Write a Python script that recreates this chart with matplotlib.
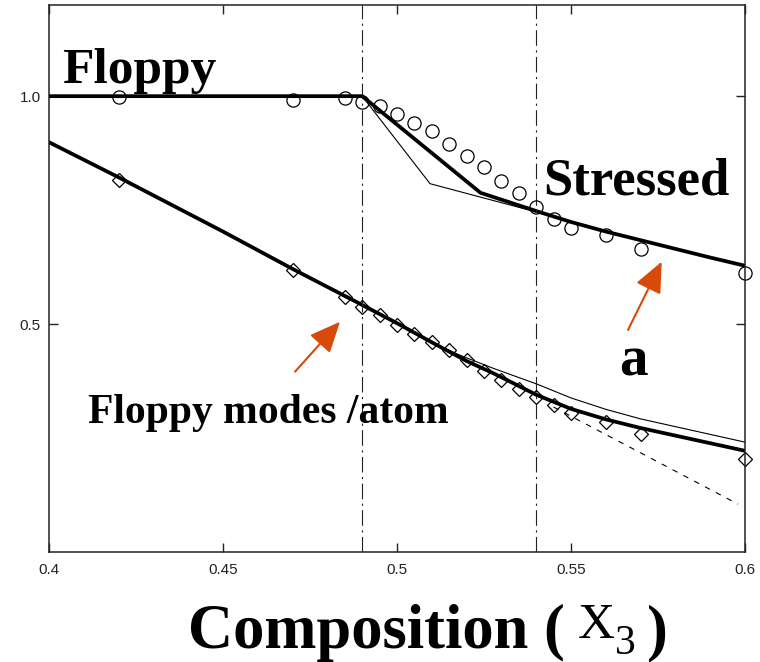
import matplotlib
matplotlib.use('Agg')
import matplotlib.pyplot as plt

W, H = 760, 662

# open circles (upper set)
x_circ = [0.42, 0.47, 0.485, 0.49, 0.495, 0.50, 0.505, 0.51, 0.515, 0.52,
          0.525, 0.53, 0.535, 0.54, 0.545, 0.55, 0.56, 0.57, 0.60]
y_circ = [0.998, 0.992, 0.995, 0.988, 0.978, 0.960, 0.942, 0.924, 0.894, 0.869,
          0.845, 0.813, 0.788, 0.756, 0.731, 0.711, 0.696, 0.665, 0.612]

# open diamonds (lower set)
x_diam = [0.42, 0.47, 0.485, 0.49, 0.495, 0.50, 0.505, 0.51, 0.515, 0.52,
          0.525, 0.53, 0.535, 0.54, 0.545, 0.55, 0.56, 0.57, 0.60]
y_diam = [0.817, 0.619, 0.560, 0.538, 0.520, 0.498, 0.479, 0.461, 0.443, 0.422,
          0.397, 0.377, 0.358, 0.340, 0.322, 0.305, 0.285, 0.259, 0.204]

# upper curves
x_up_thick = [0.40, 0.49, 0.524, 0.54, 0.55, 0.56, 0.57, 0.58, 0.59, 0.60]
y_up_thick = [1.00, 1.00, 0.788, 0.748, 0.724, 0.703, 0.684, 0.665, 0.646, 0.628]
x_up_thin = [0.40, 0.49, 0.5095, 0.54, 0.55, 0.56, 0.57, 0.58, 0.59, 0.60]
y_up_thin = [1.00, 1.00, 0.808, 0.746, 0.724, 0.703, 0.684, 0.665, 0.646, 0.628]

# lower curves
x_lo_thick = [0.40, 0.42, 0.45, 0.47, 0.49, 0.50, 0.51, 0.52, 0.528, 0.54,
              0.55, 0.56, 0.57, 0.60]
y_lo_thick = [0.899, 0.822, 0.703, 0.621, 0.542, 0.502, 0.460, 0.419, 0.391, 0.345,
              0.314, 0.291, 0.272, 0.222]
x_lo_thin = [0.40, 0.42, 0.45, 0.47, 0.49, 0.50, 0.51, 0.518, 0.528, 0.54,
             0.55, 0.56, 0.57, 0.60]
y_lo_thin = [0.899, 0.822, 0.703, 0.621, 0.542, 0.502, 0.460, 0.432, 0.402, 0.369,
             0.338, 0.313, 0.292, 0.241]
x_lo_dash = [0.545, 0.598]
y_lo_dash = [0.318, 0.105]

x_marks = [0.49, 0.54]
x_ticks = [0.4, 0.45, 0.5, 0.55, 0.6]
x_ticklabels = ['0.4', '0.45', '0.5', '0.55', '0.6']
y_ticks = [0.5, 1.0]
y_ticklabels = ['0.5', '1.0']

ORANGE = '#d84a0a'


def px(x, y):
    # image pixel (from top-left) -> figure fraction
    return x / W, 1 - y / H


fig = plt.figure(figsize=(W / 100, H / 100), dpi=100)
ax = fig.add_axes([49 / W, 1 - 552 / H, (745 - 49) / W, (552 - 5) / H])

ax.plot(x_up_thin, y_up_thin, color='black', lw=0.8)
ax.plot(x_up_thick, y_up_thick, color='black', lw=2.7)
ax.plot(x_lo_thin, y_lo_thin, color='black', lw=0.8)
ax.plot(x_lo_thick, y_lo_thick, color='black', lw=2.7)
ax.plot(x_lo_dash, y_lo_dash, color='black', lw=0.8, linestyle=(0, (5, 6)))

for xv in x_marks:
    ax.axvline(xv, color='#222222', lw=0.8, linestyle=(0, (14, 4, 2, 4)))

ax.plot(x_circ, y_circ, 'o', ms=9.5, mfc='none', mec='black', mew=0.9, clip_on=False)
ax.plot(x_diam, y_diam, 'D', ms=7.5, mfc='none', mec='black', mew=0.9, clip_on=False)

ax.set_xlim(0.4, 0.6)
ax.set_ylim(0.0, 1.2)
ax.set_xticks(x_ticks)
ax.set_xticklabels(x_ticklabels)
ax.set_yticks(y_ticks)
ax.set_yticklabels(y_ticklabels)
ax.tick_params(direction='in', length=6.5, width=1, top=True, right=True,
               labelsize=11, colors='#222222')
ax.tick_params(axis='x', pad=8)
ax.tick_params(axis='y', pad=6)
for lab in ax.get_xticklabels() + ax.get_yticklabels():
    lab.set_family('Liberation Sans')
for sp in ax.spines.values():
    sp.set_linewidth(1.1)
    sp.set_color('#222222')

serif = 'Liberation Serif'
fig.text(*px(62, 83), 'Floppy', family=serif, weight='bold', fontsize=37, va='baseline')
fig.text(*px(543, 195), 'Stressed', family=serif, weight='bold', fontsize=38, va='baseline')
fig.text(*px(619, 375), 'a', family=serif, weight='bold', fontsize=41, va='baseline')
fig.text(*px(88, 423), 'Floppy modes /atom', family=serif, weight='bold', fontsize=30,
         va='baseline')

# x axis label built from pieces
fig.text(*px(188, 648), 'Composition (', family=serif, weight='bold', fontsize=45,
         va='baseline')
fig.text(*px(578, 638), 'X', family=serif, fontsize=37, va='baseline')
fig.text(*px(615, 654), '3', family=serif, fontsize=30, va='baseline')
fig.text(*px(647, 648), ')', family=serif, weight='bold', fontsize=45, va='baseline')

# orange arrows
arrow = dict(arrowstyle='-|>,head_length=0.95,head_width=0.42', color=ORANGE,
             lw=1.5, mutation_scale=20, shrinkA=0, shrinkB=0)
ax.annotate('', xy=(661.7, H - 261.7), xytext=(628, H - 330),
            xycoords='figure pixels', textcoords='figure pixels', arrowprops=arrow)
ax.annotate('', xy=(340, H - 321.7), xytext=(295, H - 371.7),
            xycoords='figure pixels', textcoords='figure pixels', arrowprops=arrow)

fig.savefig('out.png', dpi=100)
